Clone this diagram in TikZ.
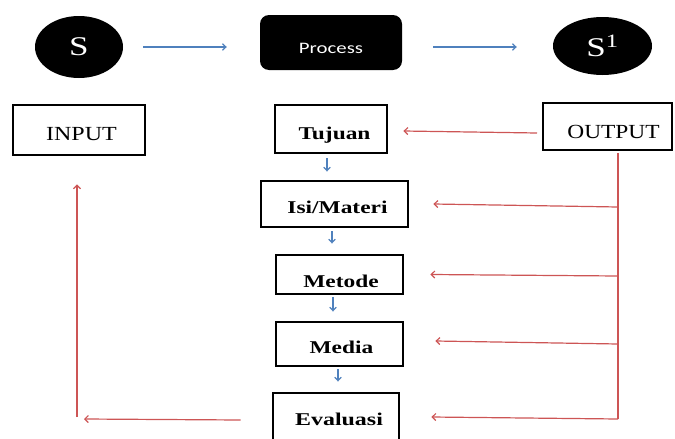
\documentclass[tikz,border=0pt]{standalone}
\usepackage{fontspec}
\setmainfont{Liberation Serif}
\newfontfamily\procfont{Carlito}
\usetikzlibrary{shapes.geometric,arrows.meta}
\definecolor{lnred}{RGB}{205,85,85}
\definecolor{lnblue}{RGB}{79,129,189}
\newcommand\hs[2]{\scalebox{#1}[1]{#2}}
\begin{document}
\begin{tikzpicture}[x=1pt,y=-1pt,
  box/.style={draw=black,line width=2.9pt,inner sep=0pt,fill=white},
  txtb/.style={anchor=base,inner sep=0pt,font=\fontsize{18}{20}\selectfont\bfseries},
  txtr/.style={anchor=base,inner sep=0pt,font=\fontsize{20}{22}\selectfont},
  blob/.style={ellipse,fill=black,inner sep=0pt,text=white,font=\fontsize{27}{30}\selectfont},
  bluearr/.style={draw=lnblue,line width=1.2pt,-{Straight Barb[length=3.5pt,width=6.5pt]}},
  redarr/.style={draw=lnred,line width=1.2pt,-{Straight Barb[length=3.5pt,width=7pt]}},
  redln/.style={draw=lnred,line width=1.2pt}]
\useasboundingbox (0,0) rectangle (675,439);
\clip (0,0) rectangle (675,439);
% top row
\node[blob,minimum width=88,minimum height=62] (s) at (79,47) {\hs{1.3}{S}};
\node[fill=black,rounded corners=9pt,minimum width=142,minimum height=55,inner sep=0pt] (process) at (331,42.5) {};
\node[anchor=base,inner sep=0pt,text=white,font=\procfont\fontsize{16}{18}\selectfont] (procT) at (331,53) {\hs{1.3}{Process}};
\node[blob,minimum width=99,minimum height=58] (s1) at (602.5,46) {\hs{1.3}{S\textsuperscript{1}}};
\coordinate (a1) at (s.east -| process.west);
\coordinate (a2) at (s.east -| process.east);
\coordinate (a3) at (s.east -| s1.west);
\draw[bluearr] ([xshift=20pt]s.east) -- ([xshift=-33pt]a1);
\draw[bluearr] ([xshift=31pt]a2) -- ([xshift=-36pt]a3);
% boxes
\node[box,minimum width=132,minimum height=50] (input) at (79,130) {};
\node[txtr] (inputT) at (81.5,140) {\hs{1.2}{INPUT}};
\node[box,minimum width=129,minimum height=47] (output) at (607.5,126.5) {};
\node[txtr] (outputT) at (613.5,138) {\hs{1.17}{OUTPUT}};
\node[box,minimum width=112,minimum height=48] (tujuan) at (331,129) {};
\node[txtb] (tujuanT) at (334.5,139) {\hs{1.3}{Tujuan}};
\node[box,minimum width=147,minimum height=46] (isi) at (334.5,204) {};
\node[txtb] (isiT) at (337.5,213) {\hs{1.3}{Isi/Materi}};
\node[box,minimum width=127,minimum height=39] (metode) at (339.5,274.5) {};
\node[txtb] (metodeT) at (341,287) {\hs{1.3}{Metode}};
\node[box,minimum width=127,minimum height=44] (media) at (339.5,344) {};
\node[txtb] (mediaT) at (341.5,353) {\hs{1.3}{Media}};
\node[box,minimum width=126,minimum height=54] (eval) at (336,420) {};
\node[txtb] (evalT) at (339,425) {\hs{1.33}{Evaluasi}};
% blue flow arrows
\draw[bluearr,shorten <=4pt,shorten >=8pt] ([xshift=-4pt]tujuan.south) -- ([xshift=-4pt]tujuan.south |- isi.north);
\draw[bluearr,shorten <=3pt,shorten >=10pt] ([xshift=-2.5pt]isi.south) -- ([xshift=-2.5pt]isi.south |- metode.north);
\draw[bluearr,shorten <=1.5pt,shorten >=9pt] ([xshift=-6.5pt]metode.south) -- ([xshift=-6.5pt]metode.south |- media.north);
\draw[bluearr,shorten <=1.5pt,shorten >=10pt] ([xshift=-1.5pt]media.south) -- ([xshift=-1.5pt]media.south |- eval.north);
% red feedback
\coordinate (o1) at (537,133);
\draw[redarr] (o1) -- ([xshift=15pt,yshift=-2pt]tujuan.east);
\coordinate (v1) at (618,207);
\coordinate (v2) at (618,276);
\coordinate (v3) at (618,344);
\coordinate (v4) at (618,419);
\draw[redln] (output.south -| v4) ++(0,1.4) -- (v4);
\draw[redarr] (v1) -- ([xshift=24pt]isi.east);
\draw[redarr] (v2) -- ([xshift=26pt]metode.east);
\draw[redarr] (v3) -- ([xshift=31pt,yshift=3pt]media.east);
\draw[redarr] (v4) -- ([xshift=31pt,yshift=3pt]eval.east);
\coordinate (lb) at (77,419);
\draw[redarr] ([xshift=-31pt]eval.west) -- ([xshift=7pt]lb);
\draw[redarr] ([yshift=2pt]lb) -- ([yshift=-28pt]input.south -| lb);
\end{tikzpicture}
\end{document}
